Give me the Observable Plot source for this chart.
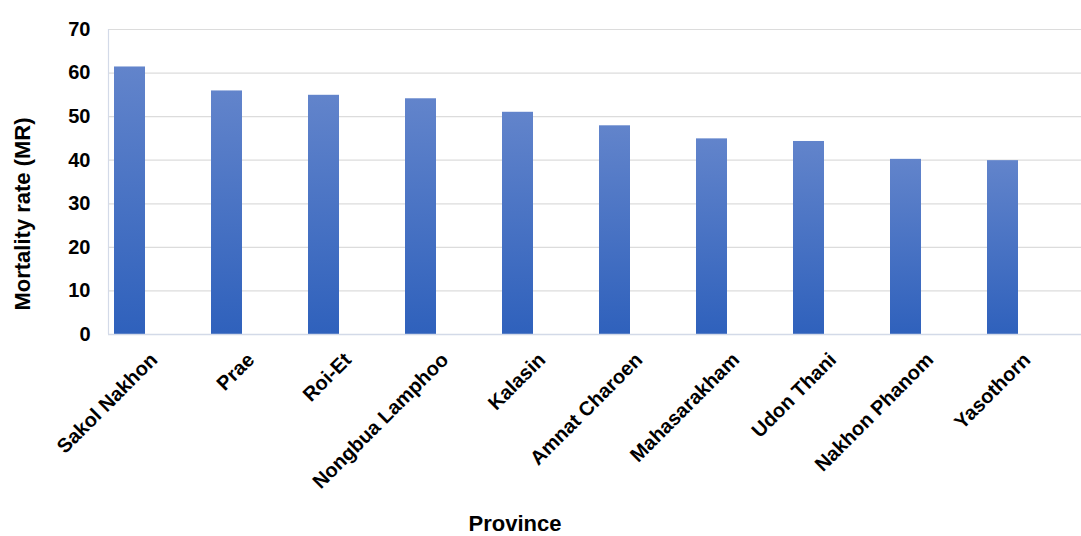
<!DOCTYPE html>
<html>
<head>
<meta charset="utf-8">
<script src="https://cdn.jsdelivr.net/npm/d3@7"></script>
<script src="https://cdn.jsdelivr.net/npm/@observablehq/plot@0.6"></script>
<style>
  html, body { margin: 0; padding: 0; background: #fff; }
  #chart svg { display: block; }
</style>
</head>
<body>
<div id="chart"></div>
<script>
const provinces = ["Sakol Nakhon", "Prae", "Roi-Et", "Nongbua Lamphoo", "Kalasin", "Amnat Charoen", "Mahasarakham", "Udon Thani", "Nakhon Phanom", "Yasothorn"];
const mortality = [61.4, 55.9, 54.9, 54.1, 51.0, 47.9, 44.9, 44.3, 40.2, 39.9];
const yTicks = [0, 10, 20, 30, 40, 50, 60, 70];
const yLabel = "Mortality rate (MR)";
const xLabel = "Province";

const data = provinces.map((p, i) => ({province: p, value: mortality[i]}));
const font = "'Liberation Sans', Arial, sans-serif";

const defsMark = () => {
  const defs = d3.create("svg:defs");
  const g = defs.append("linearGradient").attr("id", "barGrad")
    .attr("x1", 0).attr("y1", 0).attr("x2", 0).attr("y2", 1);
  g.append("stop").attr("offset", "0%").attr("stop-color", "#6284cb");
  g.append("stop").attr("offset", "100%").attr("stop-color", "#2f61bc");
  return defs.node();
};

const leftLine = (index, scales, values, dims) => {
  const x = dims.marginLeft + 0.5;
  return d3.create("svg:line")
    .attr("x1", x).attr("x2", x)
    .attr("y1", dims.marginTop).attr("y2", dims.height - dims.marginBottom)
    .attr("stroke", "#d3dae8").attr("stroke-width", 1.2).node();
};

const chart = Plot.plot({
  width: 1081,
  height: 536,
  marginLeft: 108,
  marginRight: 0,
  marginTop: 29,
  marginBottom: 202,
  style: {fontFamily: font, background: "#fff", overflow: "visible"},
  x: {type: "band", domain: provinces, range: [113, 1019.5], paddingInner: 0.68, paddingOuter: 0, axis: null},
  y: {domain: [0, 70], axis: null},
  marks: [
    defsMark,
    Plot.gridY(yTicks.filter(d => d > 0), {stroke: "#dcdcdc", strokeOpacity: 1, strokeWidth: 1.2}),
    Plot.barY(data, {x: "province", y: "value", fill: "url(#barGrad)"}),
    Plot.ruleY([0], {stroke: "#d3dae8", strokeWidth: 1.5}),
    leftLine,
    Plot.axisY({ticks: yTicks, tickSize: 0, tickPadding: 18, fontSize: 20, fontWeight: "bold", fill: "#000", label: null, tickFormat: d => String(d)}),
    Plot.text(provinces, {x: d => d, y: () => 0, dx: 24, dy: 22, rotate: -45, textAnchor: "end", lineAnchor: "middle", fontSize: 20, fontWeight: "bold", fill: "#000"}),
    Plot.text([yLabel], {frameAnchor: "left", dx: -86, dy: 32, rotate: -90, textAnchor: "middle", fontSize: 22, fontWeight: "bold", fill: "#000", lineAnchor: "middle"}),
    Plot.text([xLabel], {frameAnchor: "bottom", dx: -80, dy: 189, fontSize: 22, fontWeight: "bold", fill: "#000", lineAnchor: "middle"})
  ]
});
document.getElementById("chart").appendChild(chart);
</script>
</body>
</html>
